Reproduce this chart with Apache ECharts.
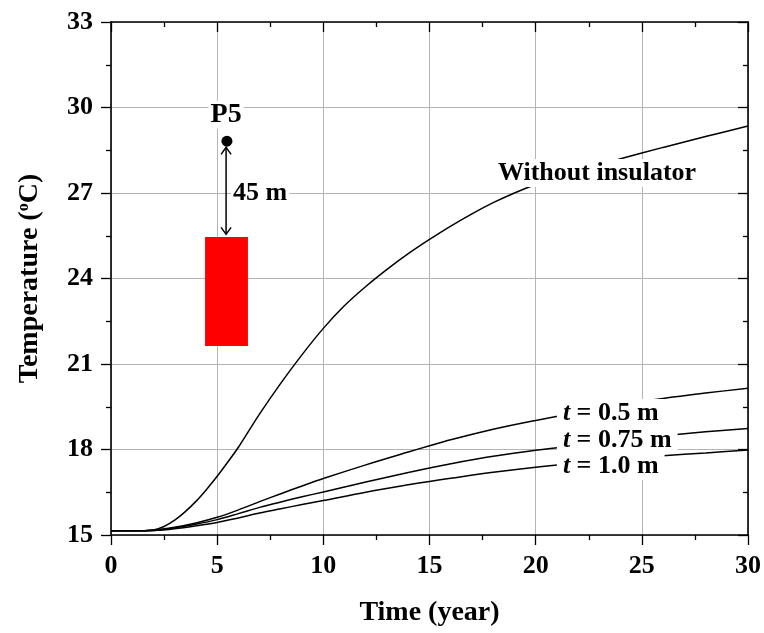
<!DOCTYPE html>
<html>
<head>
<meta charset="utf-8">
<script src="https://cdn.jsdelivr.net/npm/echarts@6/dist/echarts.min.js"></script>
<style>
html,body{margin:0;padding:0;background:#fff;}
#main{width:764px;height:633px;}
</style>
</head>
<body>
<div id="main"></div>
<script>
// ---- data ----
const yearsA = [0, 1, 2, 2.5, 3, 3.5, 4, 4.5, 5, 5.5, 6, 7, 8, 9, 10, 11, 12, 13, 14, 15, 16, 17, 18, 19, 20, 22, 24, 26, 28, 30];
const withoutInsulator = [15.15, 15.15, 15.18, 15.3, 15.52, 15.82, 16.18, 16.6, 17.06, 17.56, 18.08, 19.25, 20.33, 21.33, 22.25, 23.05, 23.72, 24.32, 24.87, 25.37, 25.84, 26.27, 26.66, 27.0, 27.3, 27.78, 28.2, 28.6, 28.98, 29.35];
const yearsB = [0, 1, 2, 3, 4, 5, 6, 7, 8, 9, 10, 12, 14, 15, 16, 18, 20, 22, 24, 26, 28, 30];
const t050 = [15.15, 15.15, 15.17, 15.27, 15.42, 15.62, 15.88, 16.17, 16.45, 16.72, 16.98, 17.46, 17.91, 18.13, 18.34, 18.71, 19.02, 19.3, 19.56, 19.79, 19.98, 20.15];
const t075 = [15.15, 15.15, 15.16, 15.25, 15.38, 15.54, 15.75, 15.97, 16.16, 16.34, 16.51, 16.86, 17.19, 17.35, 17.5, 17.76, 17.97, 18.15, 18.32, 18.48, 18.62, 18.74];
const t100 = [15.15, 15.15, 15.16, 15.22, 15.32, 15.44, 15.6, 15.77, 15.92, 16.07, 16.21, 16.5, 16.76, 16.88, 16.99, 17.2, 17.38, 17.53, 17.66, 17.78, 17.88, 17.98];
const xTicks = {min: 0, max: 30, interval: 5};
const yTicks = {min: 15, max: 33, interval: 3};

// annotation anchors (data coordinates)
const p5Point = [5.46, 28.82];
const arrowX = 5.42, arrowTop = 28.6, arrowBottom = 25.55;
const tunnelRect = [[4.43, 25.46], [6.45, 21.63]];

const FONT = '"Liberation Serif", "Times New Roman", serif';
const zip = (xs, ys) => xs.map((x, i) => [x, ys[i]]);

const chart = echarts.init(document.getElementById('main'), null, {renderer: 'canvas'});

const axisCommon = {
  axisLine: {show: true, onZero: false, lineStyle: {color: '#000', width: 1.6}},
  minorTick: {show: true, splitNumber: 2, length: 5, lineStyle: {color: '#000', width: 1.3}},
  splitLine: {show: false},
  minorSplitLine: {show: false}
};

const lineSeries = (name, data) => ({
  name, type: 'line', data, showSymbol: false, smooth: 0.35,
  lineStyle: {color: '#000', width: 1.5}, z: 3
});

chart.setOption({
  animation: false,
  backgroundColor: '#fff',
  grid: {left: 111, right: 16, top: 22, bottom: 98},
  xAxis: [
    Object.assign({}, axisCommon, {
      type: 'value', min: xTicks.min, max: xTicks.max, interval: xTicks.interval,
      name: 'Time (year)', nameLocation: 'middle', nameGap: 64,
      nameTextStyle: {fontFamily: FONT, fontWeight: 'bold', fontSize: 28, color: '#000'},
      axisTick: {show: true, inside: false, length: 10, lineStyle: {color: '#000', width: 1.3}},
      axisLabel: {margin: 18, fontFamily: FONT, fontWeight: 'bold', fontSize: 26, color: '#000'},
      splitLine: {show: true, lineStyle: {color: '#b4b4b4', width: 1}}
    }),
    Object.assign({}, axisCommon, {
      type: 'value', position: 'top', min: xTicks.min, max: xTicks.max, interval: xTicks.interval,
      axisTick: {show: true, inside: true, length: 10, lineStyle: {color: '#000', width: 1.3}},
      minorTick: {show: true, splitNumber: 2, length: 5, lineStyle: {color: '#000', width: 1.3}},
      axisLabel: {show: false}
    })
  ],
  yAxis: [
    Object.assign({}, axisCommon, {
      type: 'value', min: yTicks.min, max: yTicks.max, interval: yTicks.interval,
      name: 'Temperature ({sup|o}C)', nameLocation: 'middle', nameGap: 67, nameRotate: 90,
      nameTextStyle: {
        fontFamily: FONT, fontWeight: 'bold', fontSize: 28, color: '#000',
        rich: {sup: {fontFamily: FONT, fontWeight: 'bold', fontSize: 16, color: '#000', verticalAlign: 'bottom', padding: [0, 0, 12, 0]}}
      },
      axisTick: {show: true, inside: false, length: 10, lineStyle: {color: '#000', width: 1.3}},
      axisLabel: {margin: 18, fontFamily: FONT, fontWeight: 'bold', fontSize: 26, color: '#000'},
      splitLine: {show: true, lineStyle: {color: '#b4b4b4', width: 1}}
    }),
    Object.assign({}, axisCommon, {
      type: 'value', position: 'right', min: yTicks.min, max: yTicks.max, interval: yTicks.interval,
      axisTick: {show: true, inside: true, length: 10, lineStyle: {color: '#000', width: 1.3}},
      minorTick: {show: true, splitNumber: 2, length: 5, lineStyle: {color: '#000', width: 1.3}},
      axisLabel: {show: false}
    })
  ],
  series: [
    lineSeries('Without insulator', zip(yearsA, withoutInsulator)),
    lineSeries('t = 0.5 m', zip(yearsB, t050)),
    lineSeries('t = 0.75 m', zip(yearsB, t075)),
    lineSeries('t = 1.0 m', zip(yearsB, t100))
  ]
});

// ---- annotations (anchored in data coordinates) ----
const px = (x, y) => chart.convertToPixel({xAxisIndex: 0, yAxisIndex: 0}, [x, y]);
const textBase = {fontFamily: FONT, fontWeight: 'bold', fontSize: 26, fill: '#000', backgroundColor: '#fff'};
const txt = (x, y, text, align, extra) => {
  const p = px(x, y);
  return {
    type: 'text', z: 100, x: p[0], y: p[1],
    style: Object.assign({}, textBase, {text, align: align, verticalAlign: 'middle'}, extra || {})
  };
};
const richT = {t: {fontFamily: FONT, fontWeight: 'bold', fontStyle: 'italic', fontSize: 26, fill: '#000'}};

const r0 = px(tunnelRect[0][0], tunnelRect[0][1]);
const r1 = px(tunnelRect[1][0], tunnelRect[1][1]);
const dot = px(p5Point[0], p5Point[1]);
const aT = px(arrowX, arrowTop);
const aB = px(arrowX, arrowBottom);
const ah = 7, aw = 5;

chart.setOption({
  graphic: [
    {type: 'rect', z: 50, shape: {x: r0[0], y: r0[1], width: r1[0] - r0[0], height: r1[1] - r0[1]}, style: {fill: '#ff0000'}},
    {type: 'circle', z: 50, shape: {cx: dot[0], cy: dot[1], r: 5.5}, style: {fill: '#000'}},
    {type: 'line', z: 50, shape: {x1: aT[0], y1: aT[1], x2: aB[0], y2: aB[1]}, style: {stroke: '#000', lineWidth: 1.5}},
    {type: 'polyline', z: 50, shape: {points: [[aT[0] - aw, aT[1] + ah], [aT[0], aT[1]], [aT[0] + aw, aT[1] + ah]]}, style: {stroke: '#000', lineWidth: 1.5, fill: null}},
    {type: 'polyline', z: 50, shape: {points: [[aB[0] - aw, aB[1] - ah], [aB[0], aB[1]], [aB[0] + aw, aB[1] - ah]]}, style: {stroke: '#000', lineWidth: 1.5, fill: null}},
    txt(5.42, 29.75, 'P5', 'center', {padding: [0, 2], fontSize: 28}),
    txt(5.65, 27.0, '45 m', 'left', {padding: [0, 2]}),
    txt(22.89, 27.7, 'Without insulator', 'center', {padding: [1, 4]}),
    txt(21.0, 19.28, '{t|t} = 0.5 m', 'left', {padding: [1, 6], rich: richT}),
    txt(21.0, 18.33, '{t|t} = 0.75 m', 'left', {padding: [1, 6], rich: richT}),
    txt(21.0, 17.42, '{t|t} = 1.0 m', 'left', {padding: [1, 6], rich: richT})
  ]
});
</script>
</body>
</html>
